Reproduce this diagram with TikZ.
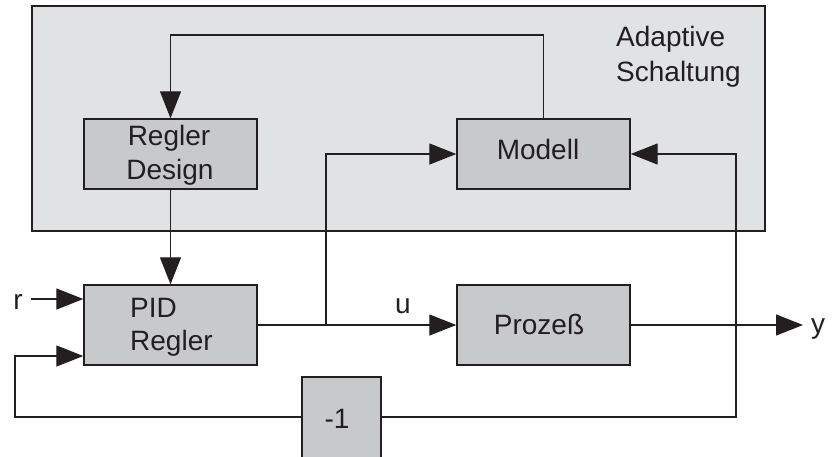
\documentclass[tikz,border=0pt]{standalone}
\usepackage{fontspec}
\setmainfont{Liberation Sans}
\usetikzlibrary{arrows.meta}
\definecolor{outerfill}{HTML}{E1E2E4}
\definecolor{boxfill}{HTML}{C8C9CB}
\definecolor{ink}{HTML}{231F20}
\begin{document}
\begin{tikzpicture}[x=1pt,y=-1pt,
  every node/.style={font=\fontsize{28}{34}\selectfont, text=ink, inner sep=0pt},
  blk/.style={draw=ink, line width=1.4pt, fill=boxfill, rectangle},
  conn/.style={draw=ink, line width=1.3pt},
  arr/.style={conn, -{Triangle[length=27pt,width=21pt]}},
  lbl/.style={anchor=base west}]
\useasboundingbox (0,0) rectangle (832,456);
\fill[white] (0,0) rectangle (832,456);
% adaptive region
\path[fill=outerfill, draw=ink, line width=1.4pt] (32,6) rectangle (765,231);
\node[lbl] (adap) at (616,46) {Adaptive};
\node[lbl] (schalt) at (616,81) {Schaltung};
% blocks
\node[blk, minimum width=173pt, minimum height=70pt] (design) at (170.5,154) {};
\node[lbl, anchor=base] (designt1) at (169,145) {Regler};
\node[lbl, anchor=base] (designt2) at (170,179) {Design};
\node[blk, minimum width=173pt, minimum height=70pt] (modell) at (543.5,154) {};
\node[anchor=base] (modellt) at (538,159) {Modell};
\node[blk, minimum width=173pt, minimum height=80pt] (pid) at (170.5,325) {};
\node[lbl] (pidt1) at (130,317) {PID};
\node[lbl] (pidt2) at (130,350) {Regler};
\node[blk, minimum width=173pt, minimum height=80pt] (proz) at (543.5,325) {};
\node[anchor=base] (prozt) at (539,334) {Proze\ss};
\node[blk, minimum width=79pt, minimum height=85pt] (neg) at (341.5,419.5) {};
\node[anchor=base] (negt) at (337,428) {-1};
% labels
\node[anchor=base] (rl) at (18,309) {r};
\node[anchor=base] (ul) at (403,313) {u};
\node[anchor=base west] (yl) at (811,333) {y};
% coordinates
\coordinate (rstart) at (31,299);
\coordinate (yend) at (803,325);
\coordinate (br) at (326,325);
\coordinate (tap) at (736,417);
\coordinate (fbl) at (15,417);
% connectors
\draw[arr] (modell.north) -- (modell.north |- 0,35) -- (design.north |- 0,35) -- (design.north);
\draw[arr] (design.south) -- (pid.north);
\draw[arr] (rstart) -- (rstart -| pid.west);
\draw[arr] (pid.east) -- (proz.west);
\draw[arr] (br) -- (br |- modell.west) -- (modell.west);
\draw[arr] (proz.east) -- (yend);
\draw[arr] (neg.east |- tap) -- (tap) -- (tap |- modell.east) -- (modell.east);
\draw[arr] (neg.west |- fbl) -- (fbl) -- (15,356) -- (pid.west |- 0,356);
\end{tikzpicture}
\end{document}
